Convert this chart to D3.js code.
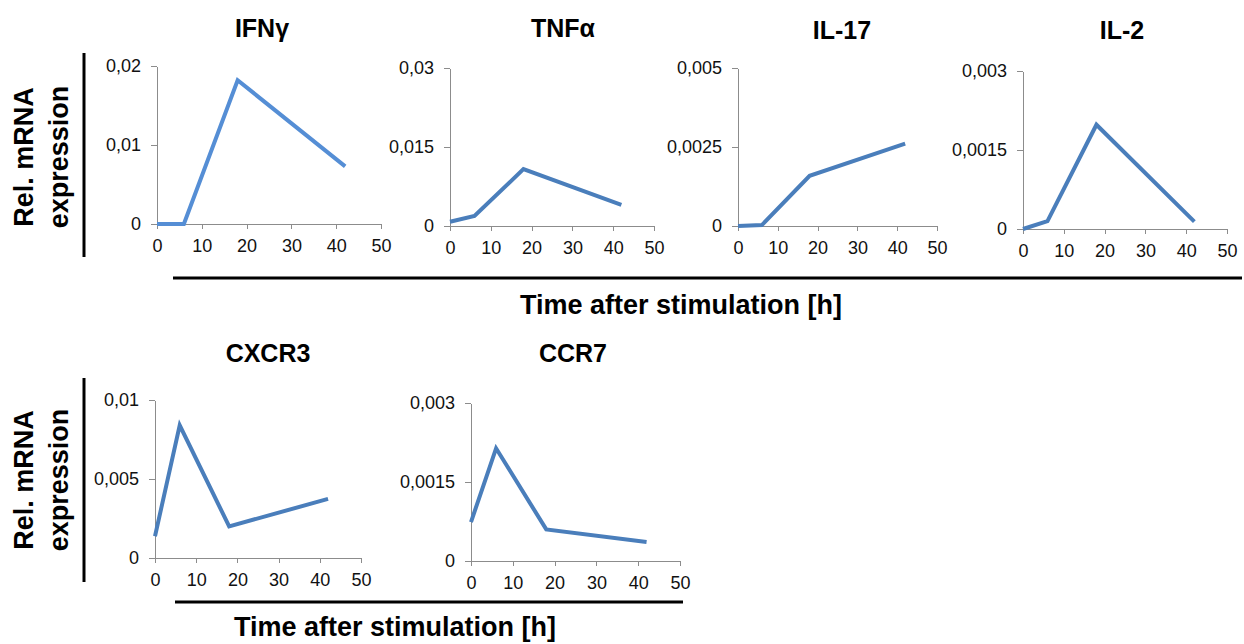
<!DOCTYPE html>
<html>
<head>
<meta charset="utf-8">
<script src="https://cdn.jsdelivr.net/npm/d3@7"></script>
<style>
  body { margin: 0; background: #fff; }
  svg { font-family: "Liberation Sans", Arial, sans-serif; }
  .axis path, .axis line { stroke: #8c8c8c; stroke-width: 1; shape-rendering: crispEdges; }
  .axis text { font-size: 18px; fill: #111; }
  .title { font-size: 25px; font-weight: bold; text-anchor: middle; }
  .label { font-size: 27px; font-weight: bold; text-anchor: middle; }
  .series { fill: none; stroke-width: 4; }
</style>
</head>
<body>
<svg id="chart"></svg>
<script>
(function() {
  'use strict';
  const W = 1244, H = 644;

  // time points (h) and relative mRNA expression per gene
  const hours = [0, 6, 18, 42];
  const genes = ['IFN\u03b3', 'TNF\u03b1', 'IL-17', 'IL-2', 'CXCR3', 'CCR7'];
  const ifng  = [0, 0, 0.0182, 0.0073];
  const tnfa  = [0.0008, 0.0019, 0.0108, 0.0040];
  const il17  = [0, 0.00003, 0.00159, 0.00261];
  const il2   = [0, 0.00015, 0.00198, 0.00014];
  const cxcr3 = [0.00138, 0.0084, 0.0020, 0.00374];
  const ccr7  = [0.00074, 0.00214, 0.0006, 0.00036];
  const series = [ifng, tnfa, il17, il2, cxcr3, ccr7];

  const yMax = [0.02, 0.03, 0.005, 0.003, 0.01, 0.003];
  const yTickLabels = [
    ['0', '0,01', '0,02'],
    ['0', '0,015', '0,03'],
    ['0', '0,0025', '0,005'],
    ['0', '0,0015', '0,003'],
    ['0', '0,005', '0,01'],
    ['0', '0,0015', '0,003']
  ];
  const xTicks = [0, 10, 20, 30, 40, 50];
  const yLabel = ['Rel. mRNA', 'expression'];
  const xLabel = 'Time after stimulation [h]';

  // plot boxes: left/right of the 0..50 axis, zero line and top tick
  const boxes = [
    {x0: 157, x1: 381, y0: 224, y1: 66, tx: 262, ty: 37},
    {x0: 450, x1: 654, y0: 226, y1: 68, tx: 563, ty: 37},
    {x0: 738, x1: 937, y0: 226, y1: 68, tx: 842, ty: 39},
    {x0: 1023, x1: 1227, y0: 229, y1: 71, tx: 1122, ty: 39},
    {x0: 155, x1: 361, y0: 558, y1: 400, tx: 268, ty: 362},
    {x0: 471, x1: 680, y0: 561, y1: 403, tx: 573, ty: 362}
  ];
  const colors = ['#558ed5', '#4a7ebb', '#4a7ebb', '#4a7ebb', '#4a7ebb', '#4a7ebb'];

  const svg = d3.select('#chart')
    .attr('width', W)
    .attr('height', H);

  genes.forEach((gene, i) => {
    const b = boxes[i];
    const x = d3.scaleLinear().domain([0, 50]).range([b.x0, b.x1]);
    const y = d3.scaleLinear().domain([0, yMax[i]]).range([b.y0, b.y1]);
    const yVals = [0, yMax[i] / 2, yMax[i]];

    svg.append('g')
      .attr('class', 'axis')
      .attr('transform', `translate(0,${b.y0})`)
      .call(d3.axisBottom(x).tickValues(xTicks).tickSize(5).tickSizeOuter(0).tickPadding(10))
      .selectAll('text').attr('dy', '0.71em');

    svg.append('g')
      .attr('class', 'axis')
      .attr('transform', `translate(${b.x0},0)`)
      .call(d3.axisLeft(y).tickValues(yVals).tickSize(6).tickSizeOuter(0).tickPadding(10)
        .tickFormat((d, k) => yTickLabels[i][k]));

    const line = d3.line()
      .x((d, k) => x(hours[k]))
      .y(d => y(d));

    svg.append('path')
      .datum(series[i])
      .attr('class', 'series')
      .attr('stroke', colors[i])
      .attr('d', line);

    svg.append('text')
      .attr('class', 'title')
      .attr('x', b.tx)
      .attr('y', b.ty)
      .text(gene);
  });

  // row decorations: y label with bar, x label with bar
  const rows = [
    {cy: 157, vy0: 53, vy1: 257, hx0: 173, hx1: 1242, hy: 278, lx: 681, ly: 314},
    {cy: 480, vy0: 378, vy1: 582, hx0: 175, hx1: 683, hy: 602, lx: 395, ly: 636}
  ];

  rows.forEach(r => {
    svg.append('line')
      .attr('x1', 84).attr('x2', 84)
      .attr('y1', r.vy0).attr('y2', r.vy1)
      .attr('stroke', '#000').attr('stroke-width', 3);

    svg.append('line')
      .attr('x1', r.hx0).attr('x2', r.hx1)
      .attr('y1', r.hy).attr('y2', r.hy)
      .attr('stroke', '#000').attr('stroke-width', 3);

    const g = svg.append('g')
      .attr('transform', `translate(0,${r.cy}) rotate(-90)`);
    g.selectAll('text')
      .data(yLabel)
      .enter()
      .append('text')
      .attr('class', 'label')
      .attr('x', 0)
      .attr('y', (d, k) => 33 + k * 35)
      .text(d => d);

    svg.append('text')
      .attr('class', 'label')
      .attr('x', r.lx)
      .attr('y', r.ly)
      .text(xLabel);
  });
})();
</script>
</body>
</html>
